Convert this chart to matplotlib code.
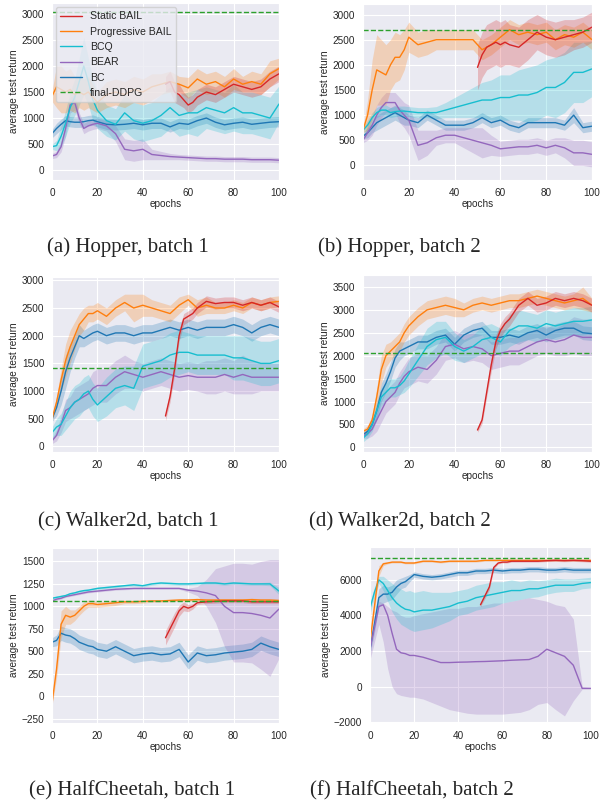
import numpy as np
import matplotlib
matplotlib.use("Agg")
import matplotlib.pyplot as plt
import seaborn as sns

sns.set_style("darkgrid")
plt.rcParams["font.family"] = ["Liberation Sans", "DejaVu Sans"]

EPOCHS = [0, 2, 4, 6, 8, 10, 12, 14, 16, 18, 20, 24, 28, 32, 36, 40, 44, 48,
          52, 56, 60, 64, 68, 72, 76, 80, 84, 88, 92, 96, 100]
STATIC_EPOCHS = [50, 52, 54, 56, 58, 60, 62, 64, 68, 72, 76, 80, 84, 88, 92, 96, 100]

LABELS = ["Static BAIL", "Progressive BAIL", "BCQ", "BEAR", "BC", "final-DDPG"]
CAPTIONS = ["(a) Hopper, batch 1", "(b) Hopper, batch 2",
            "(c) Walker2d, batch 1", "(d) Walker2d, batch 2",
            "(e) HalfCheetah, batch 1", "(f) HalfCheetah, batch 2"]

# (a) Hopper batch 1
hop1_static = [1650, 1700, 1500, 1450, 1350, 1250, 1300, 1400, 1500, 1450, 1550, 1650, 1600, 1550, 1600, 1750, 1850]
hop1_static_sd = [150, 200, 200, 200, 150, 150, 150, 150, 150, 150, 150, 150, 150, 150, 150, 150, 150]
hop1_prog = [1420, 1600, 1550, 1500, 1550, 1450, 1500, 1450, 1500, 1400, 1300, 1450, 1500, 1450, 1550, 1500,
             1600, 1650, 1700, 1650, 1580, 1750, 1650, 1700, 1600, 1750, 1650, 1700, 1650, 1850, 1950]
hop1_prog_sd = [100, 400, 450, 400, 400, 350, 300, 300, 300, 250, 200, 250, 250, 250, 250, 250,
                250, 200, 200, 150, 200, 200, 200, 200, 200, 200, 150, 200, 200, 250, 200]
hop1_bcq = [450, 470, 650, 900, 1200, 1400, 1700, 2000, 1700, 1350, 1150, 950, 880, 1100, 950, 900,
            950, 1050, 1200, 1050, 1100, 1100, 1200, 1150, 1100, 1200, 1100, 1100, 1050, 1000, 1270]
hop1_bcq_sd = [50, 100, 200, 250, 300, 350, 450, 550, 450, 400, 350, 300, 300, 350, 350, 350,
               350, 400, 400, 400, 400, 450, 400, 400, 400, 450, 400, 400, 400, 400, 350]
hop1_bear = [270, 300, 450, 800, 1250, 1300, 1000, 800, 850, 880, 900, 850, 700, 400, 370, 400,
             300, 280, 260, 250, 240, 230, 220, 220, 210, 210, 210, 200, 200, 200, 190]
hop1_bear_sd = [50, 60, 100, 150, 150, 150, 100, 100, 100, 100, 100, 100, 150, 200, 200, 200,
                100, 80, 60, 50, 50, 50, 50, 50, 50, 50, 50, 50, 50, 50, 50]
hop1_bc = [700, 800, 880, 950, 930, 920, 920, 930, 950, 960, 930, 880, 870, 880, 900, 870,
           900, 900, 830, 900, 880, 950, 1000, 920, 870, 900, 920, 880, 900, 920, 930]
hop1_bc_sd = [80] + [100] * 30
hop1_ddpg = 3040

# (b) Hopper batch 2
hop2_static = [1950, 2200, 2350, 2400, 2450, 2400, 2450, 2400, 2350, 2500, 2650, 2550, 2500, 2550, 2600, 2650, 2750]
hop2_static_sd = [450, 450, 450, 450, 450, 450, 450, 400, 400, 400, 350, 350, 350, 350, 300, 300, 300]
hop2_prog = [700, 1000, 1500, 1900, 1850, 1800, 2000, 2150, 2150, 2300, 2550, 2400, 2450, 2500, 2500, 2500,
             2500, 2500, 2300, 2400, 2550, 2700, 2600, 2650, 2600, 2650, 2500, 2600, 2550, 2650, 2500]
hop2_prog_sd = [50, 300, 600, 700, 650, 600, 500, 500, 450, 400, 300, 250, 250, 200, 200, 200,
                200, 200, 200, 200, 200, 200, 200, 200, 200, 200, 200, 200, 200, 200, 200]
hop2_bcq = [700, 800, 950, 1050, 1100, 1100, 1050, 1070, 1080, 1080, 1070, 1050, 1050, 1050, 1100, 1150,
            1200, 1250, 1300, 1300, 1350, 1350, 1400, 1400, 1450, 1550, 1550, 1650, 1850, 1850, 1920]
hop2_bcq_sd = [50, 100, 100, 100, 100, 100, 100, 100, 100, 100, 100, 100, 100, 120, 150, 200,
               250, 300, 350, 400, 450, 450, 500, 550, 550, 550, 600, 600, 600, 600, 550]
hop2_bear = [500, 650, 800, 1000, 1150, 1250, 1250, 1250, 1100, 1000, 900, 400, 450, 550, 600, 600,
             550, 500, 450, 400, 330, 350, 370, 370, 400, 350, 400, 350, 250, 250, 220]
hop2_bear_sd = [50, 150, 200, 200, 200, 200, 200, 200, 250, 250, 300, 300, 250, 150, 150, 150,
                200, 250, 300, 200, 150, 150, 150, 150, 150, 150, 150, 200, 250, 250, 250]
hop2_bc = [580, 650, 750, 850, 900, 950, 1000, 1050, 1000, 950, 900, 850, 1000, 900, 800, 800,
           800, 850, 950, 850, 900, 800, 750, 850, 850, 850, 850, 800, 1000, 750, 780]
hop2_bc_sd = [50, 100, 100, 150, 150, 150, 150, 150, 150, 150, 100, 100, 100, 100, 100, 100,
              100, 100, 100, 100, 100, 100, 100, 100, 100, 100, 100, 100, 150, 100, 100]
hop2_ddpg = 2690

# (c) Walker2d batch 1
walk1_static = [550, 900, 1400, 2000, 2300, 2350, 2400, 2500, 2620, 2580, 2600, 2600, 2550, 2600, 2550, 2600, 2520]
walk1_static_sd = [80] + [100] * 16
walk1_prog = [500, 800, 1200, 1550, 1800, 2000, 2200, 2300, 2400, 2400, 2450, 2350, 2500, 2600, 2500, 2550,
              2500, 2450, 2400, 2550, 2650, 2500, 2550, 2500, 2500, 2550, 2500, 2600, 2550, 2600, 2620]
walk1_prog_sd = [50, 100, 200, 300, 300, 250, 200, 200, 150, 150, 150, 150, 150, 150, 250, 200,
                 150, 150, 150, 150, 100, 150, 150, 100, 100, 100, 100, 100, 100, 100, 100]
walk1_bcq = [250, 350, 400, 550, 700, 800, 850, 950, 1000, 850, 750, 900, 1050, 1100, 1050, 1450,
             1500, 1550, 1650, 1700, 1700, 1650, 1650, 1650, 1650, 1600, 1600, 1550, 1500, 1500, 1550]
walk1_bcq_sd = [100, 150, 200, 250, 300, 300, 300, 300, 300, 300, 300, 350, 350, 350, 400, 400,
                400, 400, 400, 400, 350, 350, 350, 350, 350, 400, 400, 400, 400, 400, 400]
walk1_bear = [100, 200, 400, 650, 700, 800, 850, 900, 950, 1050, 1100, 1100, 1250, 1350, 1300, 1250,
              1300, 1350, 1300, 1250, 1280, 1250, 1250, 1250, 1300, 1250, 1300, 1250, 1250, 1250, 1250]
walk1_bear_sd = [50, 100, 150, 200, 200, 250, 250, 250, 250, 300, 300, 300, 300, 300, 250, 250,
                 250, 250, 250, 250, 250, 250, 300, 300, 300, 300, 350, 300, 250, 250, 250]
walk1_bc = [500, 700, 1000, 1350, 1600, 1800, 2000, 1950, 2000, 2050, 2080, 2000, 2050, 2050, 2000, 2050,
            2050, 2100, 2150, 2100, 2150, 2100, 2150, 2150, 2150, 2200, 2150, 2050, 2150, 2200, 2150]
walk1_bc_sd = [50, 150, 250, 300, 250, 200, 200] + [150] * 24
walk1_ddpg = 1410

# (d) Walker2d batch 2
walk2_static = [380, 600, 1200, 1800, 2300, 2550, 2700, 2800, 3100, 3250, 3100, 3150, 3250, 3200, 3250, 3200, 3100]
walk2_static_sd = [50, 80, 100] + [150] * 14
walk2_prog = [350, 400, 600, 1100, 1700, 2000, 2100, 2200, 2300, 2500, 2650, 2850, 3000, 3050, 3100, 3050,
              3000, 3100, 3150, 3100, 3150, 3200, 3200, 3250, 3300, 3250, 3200, 3150, 3200, 3250, 3100]
walk2_prog_sd = [50, 80, 100, 200, 300, 250, 200, 200, 200, 200, 200, 200, 200, 200, 200, 200,
                 150, 150, 150, 150, 150, 150, 150, 150, 150, 150, 150, 150, 150, 250, 150]
walk2_bcq = [200, 300, 500, 800, 1100, 1200, 1300, 1300, 1350, 1450, 1600, 1900, 2200, 2350, 2400, 2200,
             2100, 2200, 2350, 2400, 2300, 2550, 2650, 2650, 2600, 2700, 2650, 2700, 2750, 2750, 2780]
walk2_bcq_sd = [80, 100, 150, 200, 200, 200, 200, 200, 200, 250, 300, 350, 400, 400, 350, 300,
                250, 250, 300, 300, 300, 350, 350, 300, 300, 300, 300, 300, 300, 300, 300]
walk2_bear = [250, 300, 400, 600, 800, 1000, 1100, 1200, 1400, 1550, 1650, 1750, 1700, 1900, 2200, 2250,
              2150, 2200, 2150, 2000, 2050, 2100, 2100, 2200, 2300, 2350, 2300, 2350, 2450, 2400, 2400]
walk2_bear_sd = [50, 100, 150, 250, 250, 250, 250, 250, 250, 250, 300, 300, 300, 300, 300, 300,
                 300, 300, 300, 300, 300, 300, 300, 300, 300, 300, 300, 350, 400, 400, 400]
walk2_bc = [280, 350, 500, 800, 1200, 1400, 1650, 1950, 2100, 2150, 2200, 2300, 2300, 2400, 2450, 2250,
            2450, 2550, 2600, 2400, 2400, 2450, 2400, 2500, 2550, 2450, 2550, 2600, 2600, 2500, 2480]
walk2_bc_sd = [50, 80, 100, 150, 200, 200, 200, 200, 200] + [150] * 22
walk2_ddpg = 2050

# (e) HalfCheetah batch 1
cheet1_static = [650, 750, 850, 950, 1000, 980, 1000, 1040, 1050, 1055, 1060, 1060, 1060, 1050, 1050, 1050, 1050]
cheet1_static_sd = [80, 80, 80, 60, 50, 40, 30, 20, 20, 20, 20, 20, 20, 20, 20, 20, 20]
cheet1_prog = [-80, 300, 800, 900, 880, 900, 950, 1000, 1030, 1030, 1020, 1030, 1040, 1050, 1050, 1055,
               1060, 1060, 1065, 1070, 1070, 1075, 1070, 1070, 1070, 1070, 1070, 1075, 1070, 1070, 1065]
cheet1_prog_sd = [30, 100, 150, 100, 80, 60, 50, 50, 40, 40, 30, 30, 30, 20, 20, 20] + [15] * 15
cheet1_bcq = [1090, 1100, 1110, 1120, 1140, 1150, 1165, 1175, 1180, 1190, 1200, 1210, 1220, 1230, 1240, 1230,
              1250, 1260, 1255, 1250, 1250, 1255, 1260, 1260, 1250, 1260, 1255, 1250, 1250, 1250, 1170]
cheet1_bcq_sd = [15] * 29 + [20, 40]
cheet1_bear = [1060, 1080, 1090, 1110, 1120, 1130, 1140, 1150, 1160, 1165, 1170, 1180, 1190, 1195, 1200, 1200,
               1200, 1200, 1200, 1200, 1180, 1170, 1150, 1120, 1000, 930, 930, 920, 900, 870, 970]
cheet1_bear_sd = [10] * 20 + [20, 50, 150, 300, 450, 550, 550, 550, 600, 650, 550]
cheet1_bc = [600, 620, 700, 680, 670, 640, 600, 580, 560, 550, 520, 500, 550, 500, 450, 470,
             480, 460, 470, 520, 380, 480, 450, 460, 480, 490, 500, 520, 590, 550, 520]
cheet1_bc_sd = [50, 60] + [80] * 29
cheet1_ddpg = 1060

# (f) HalfCheetah batch 2
cheet2_static = [4600, 5100, 5600, 6700, 6950, 7000, 7000, 7050, 7050, 7050, 7050, 7080, 7100, 7080, 7100, 7080, 7050]
cheet2_static_sd = [100, 150, 150, 100, 50, 50, 50, 50, 50, 50, 50, 50, 60, 60, 60, 60, 60]
cheet2_prog = [2500, 4500, 6500, 6900, 6950, 7000, 7000, 7000, 6950, 6950, 6950, 7050, 7050, 7000, 7050, 7050,
               7050, 7050, 7100, 7100, 7100, 7100, 7100, 7100, 7100, 7100, 7100, 7100, 7100, 7100, 7100]
cheet2_prog_sd = [100, 300, 300, 100] + [50] * 27
cheet2_bcq = [4400, 5300, 6000, 5800, 5400, 5000, 4700, 4500, 4350, 4300, 4200, 4300, 4300, 4400, 4500, 4700,
              4800, 5000, 5100, 5200, 5300, 5400, 5400, 5500, 5500, 5600, 5700, 5700, 5700, 5800, 5850]
cheet2_bcq_sd = [300, 300, 200, 400, 600, 800, 900, 1000, 1000, 1100, 1100, 1100, 1000, 900, 800, 700,
                 700, 700, 700, 700, 600, 600, 500, 500, 450, 400, 400, 350, 350, 300, 300]
cheet2_bear = [2100, 3300, 4500, 4600, 4000, 3000, 2100, 1900, 1850, 1750, 1750, 1650, 1500, 1350, 1350, 1370,
               1380, 1400, 1410, 1430, 1450, 1480, 1500, 1520, 1700, 2100, 1900, 1700, 1200, -100, -100]
cheet2_bear_lo = [1500, 2500, 3500, 2500, 1000, 0, -400, -500, -550, -600, -600, -700, -900, -1100, -1300, -1400,
                  -1500, -1550, -1550, -1550, -1550, -1500, -1450, -1300, -1000, -900, -1300, -1650, -800, -150, -150]
cheet2_bear_hi = [2500, 4000, 4800, 4700, 4500, 4300, 4200, 4000, 3900, 3900, 4000, 4100, 4200, 4300, 4400, 4400,
                  4500, 4500, 4600, 4700, 4700, 4800, 4900, 5000, 4900, 4800, 4600, 4500, 3800, 0, -50]
cheet2_bc = [2100, 3500, 5000, 5200, 5200, 5300, 5600, 5800, 5900, 6100, 6300, 6200, 6150, 6200, 6300, 6400,
             6400, 6500, 6500, 6550, 6500, 6550, 6550, 6600, 6600, 6550, 6550, 6600, 6550, 6550, 6550]
cheet2_bc_sd = [300, 500, 500, 500, 400, 400, 400, 300, 300, 200] + [150] * 21
cheet2_ddpg = 7230

COLORS = ["#d62728", "#ff7f0e", "#17becf", "#9467bd", "#1f77b4", "#2ca02c"]
FS = 7.2


def draw_panel(ax, static, static_sd, prog, prog_sd, bcq, bcq_sd, bear, bear_lo, bear_hi,
               bc, bc_sd, ddpg, ylim):
    e = np.array(EPOCHS)
    s = np.array(STATIC_EPOCHS)
    series = [(s, static, static_sd), (e, prog, prog_sd), (e, bcq, bcq_sd),
              (e, bear, None), (e, bc, bc_sd)]
    handles = [None] * 6
    # draw back to front so BAIL curves sit on top
    for i in reversed(range(5)):
        x, y, sd = series[i]
        y = np.array(y, dtype=float)
        if sd is None:
            lo, hi = np.array(bear_lo), np.array(bear_hi)
        else:
            lo, hi = y - np.array(sd), y + np.array(sd)
        ax.fill_between(x, lo, hi, color=COLORS[i], alpha=0.25, linewidth=0)
        handles[i], = ax.plot(x, y, color=COLORS[i], lw=1.0, label=LABELS[i])
    handles[5] = ax.axhline(ddpg, color=COLORS[5], ls="--", lw=1.0, label=LABELS[5])
    ax.set_xlim(0, 100)
    ax.set_ylim(*ylim)
    ax.set_xticks([0, 20, 40, 60, 80, 100])
    ax.set_xlabel("epochs", fontsize=FS, labelpad=1)
    ax.set_ylabel("average test return", fontsize=FS, labelpad=2)
    ax.tick_params(axis="both", labelsize=FS, pad=2)
    return handles


def rect(l, t, r, b):
    return [l / 602, 1 - b / 801, (r - l) / 602, (b - t) / 801]


fig = plt.figure(figsize=(6.02, 8.01), dpi=100)

ax_a = fig.add_axes(rect(52, 3, 279, 180))
hs = draw_panel(ax_a, hop1_static, hop1_static_sd, hop1_prog, hop1_prog_sd, hop1_bcq, hop1_bcq_sd,
                hop1_bear, np.array(hop1_bear) - np.array(hop1_bear_sd),
                np.array(hop1_bear) + np.array(hop1_bear_sd), hop1_bc, hop1_bc_sd, hop1_ddpg, (-190, 3210))
ax_a.legend(handles=hs, labels=LABELS, loc="upper left", fontsize=7.6, framealpha=0.8,
            borderaxespad=0.4)

ax_b = fig.add_axes(rect(363, 4, 592, 180))
draw_panel(ax_b, hop2_static, hop2_static_sd, hop2_prog, hop2_prog_sd, hop2_bcq, hop2_bcq_sd,
           hop2_bear, np.array(hop2_bear) - np.array(hop2_bear_sd),
           np.array(hop2_bear) + np.array(hop2_bear_sd), hop2_bc, hop2_bc_sd, hop2_ddpg, (-290, 3210))

ax_c = fig.add_axes(rect(52, 277, 279, 452))
draw_panel(ax_c, walk1_static, walk1_static_sd, walk1_prog, walk1_prog_sd, walk1_bcq, walk1_bcq_sd,
           walk1_bear, np.array(walk1_bear) - np.array(walk1_bear_sd),
           np.array(walk1_bear) + np.array(walk1_bear_sd), walk1_bc, walk1_bc_sd, walk1_ddpg, (-100, 3060))

ax_d = fig.add_axes(rect(363, 275, 592, 452))
draw_panel(ax_d, walk2_static, walk2_static_sd, walk2_prog, walk2_prog_sd, walk2_bcq, walk2_bcq_sd,
           walk2_bear, np.array(walk2_bear) - np.array(walk2_bear_sd),
           np.array(walk2_bear) + np.array(walk2_bear_sd), walk2_bc, walk2_bc_sd, walk2_ddpg, (-100, 3760))

ax_e = fig.add_axes(rect(52, 548, 279, 723))
draw_panel(ax_e, cheet1_static, cheet1_static_sd, cheet1_prog, cheet1_prog_sd, cheet1_bcq, cheet1_bcq_sd,
           cheet1_bear, np.array(cheet1_bear) - np.array(cheet1_bear_sd),
           np.array(cheet1_bear) + np.array(cheet1_bear_sd), cheet1_bc, cheet1_bc_sd, cheet1_ddpg, (-300, 1650))
ax_e.set_yticks([-250, 0, 250, 500, 750, 1000, 1250, 1500])

ax_f = fig.add_axes(rect(370, 547, 591, 723))
draw_panel(ax_f, cheet2_static, cheet2_static_sd, cheet2_prog, cheet2_prog_sd, cheet2_bcq, cheet2_bcq_sd,
           cheet2_bear, cheet2_bear_lo, cheet2_bear_hi, cheet2_bc, cheet2_bc_sd, cheet2_ddpg, (-2050, 7850))
ax_f.set_yticks([-2000, 0, 2000, 4000, 6000])

caption_pos = [(128, 247), (399, 247), (128, 522), (400, 522), (132, 791), (412, 791)]
for (cx, cy), text in zip(caption_pos, CAPTIONS):
    fig.text(cx / 602, 1 - cy / 801, text, ha="center", va="center",
             family="Liberation Serif", fontsize=15)

fig.savefig("out.png", dpi=100)
